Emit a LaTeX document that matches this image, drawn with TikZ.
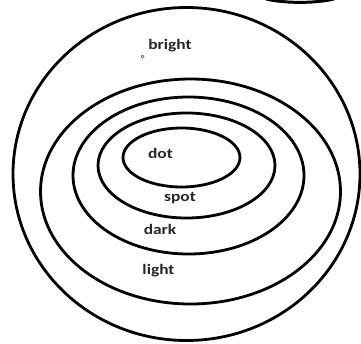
\documentclass[tikz,border=0pt]{standalone}
\usepackage{fontspec}
\usetikzlibrary{shapes.geometric}
\newfontfamily\labfont[BoldFeatures={FakeStretch=1.2}]{Carlito}
\begin{document}
\begin{tikzpicture}[x=1pt,y=-1pt,
  ring/.style={draw=black,line width=2.8pt},
  lab/.style={font=\labfont\bfseries\fontsize{14.5}{16}\selectfont,text=black!85,inner sep=0pt}]
\useasboundingbox (0,0) rectangle (361,343);
\fill[white] (0,0) rectangle (361,343);
\begin{scope}
\clip (0,0) rectangle (361,343);
\path[ring] (186.5,174) ellipse [x radius=173.5,y radius=166.5];
\path[draw=black,line width=3pt] (266,-1) .. controls (285,3.5) and (315,3.5) .. (334,-1);
\end{scope}
\node[ring,ellipse,minimum width=300pt,minimum height=225pt,inner sep=0pt] (light) at (190.5,191.5) {};
\node[ring,ellipse,minimum width=231pt,minimum height=157pt,inner sep=0pt] (dark) at (188.5,175.5) {};
\node[ring,ellipse,minimum width=177pt,minimum height=105pt,inner sep=0pt] (spot) at (186.5,165.5) {};
\node[ring,ellipse,minimum width=117pt,minimum height=59pt,inner sep=0pt] (dot) at (181.5,157.5) {};
\node[lab] (tbright) at (170,46) {bright};
\node[draw=black!70,circle,inner sep=0pt,minimum size=3pt,line width=0.6pt] (pt) at (142.5,56.5) {};
\node[lab] (tdot) at (160.5,153.5) {dot};
\node[lab] (tspot) at (180,198) {spot};
\node[lab] (tdark) at (160,229.5) {dark};
\node[lab] (tlight) at (158.5,270.5) {light};
\end{tikzpicture}
\end{document}
